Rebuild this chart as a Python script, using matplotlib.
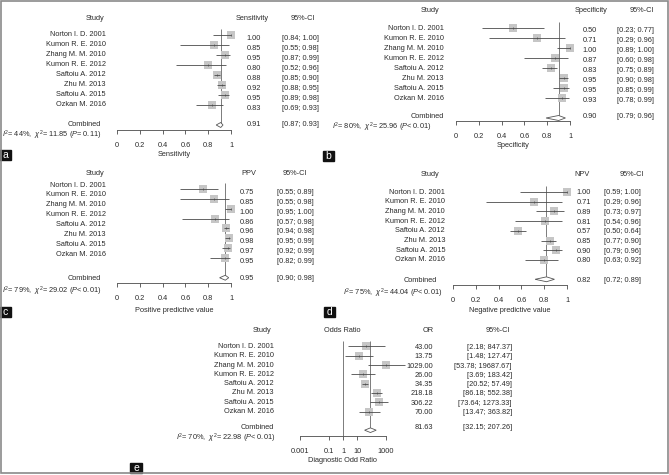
import numpy as np
import matplotlib.pyplot as plt
from matplotlib import transforms
from matplotlib.patches import Polygon, Rectangle

plt.rcParams['font.family'] = ['Liberation Sans', 'DejaVu Sans']
plt.rcParams['mathtext.fontset'] = 'custom'
plt.rcParams['mathtext.rm'] = 'Liberation Sans'
plt.rcParams['mathtext.it'] = 'Liberation Sans:italic'

# data
studies = ["Norton I. D. 2001", "Kumon R. E. 2010", "Zhang M. M. 2010", "Kumon R. E. 2012",
           "Saftoiu A. 2012", "Zhu M. 2013", "Saftoiu A. 2015", "Ozkan M. 2016"]

sens = [1.00, 0.85, 0.95, 0.80, 0.88, 0.92, 0.95, 0.83]
sens_lo = [0.84, 0.55, 0.87, 0.52, 0.85, 0.88, 0.89, 0.69]
sens_hi = [1.00, 0.98, 0.99, 0.96, 0.90, 0.95, 0.98, 0.93]
sens_comb = [0.91, 0.87, 0.93]

spec = [0.50, 0.71, 1.00, 0.87, 0.83, 0.95, 0.95, 0.93]
spec_lo = [0.23, 0.29, 0.89, 0.60, 0.75, 0.90, 0.85, 0.78]
spec_hi = [0.77, 0.96, 1.00, 0.98, 0.89, 0.98, 0.99, 0.99]
spec_comb = [0.90, 0.79, 0.96]

ppv = [0.75, 0.85, 1.00, 0.86, 0.96, 0.98, 0.97, 0.95]
ppv_lo = [0.55, 0.55, 0.95, 0.57, 0.94, 0.95, 0.92, 0.82]
ppv_hi = [0.89, 0.98, 1.00, 0.98, 0.98, 0.99, 0.99, 0.99]
ppv_comb = [0.95, 0.90, 0.98]

npv = [1.00, 0.71, 0.89, 0.81, 0.57, 0.85, 0.90, 0.80]
npv_lo = [0.59, 0.29, 0.73, 0.54, 0.50, 0.77, 0.79, 0.63]
npv_hi = [1.00, 0.96, 0.97, 0.96, 0.64, 0.90, 0.96, 0.92]
npv_comb = [0.82, 0.72, 0.89]

odds = [43.00, 13.75, 1029.00, 26.00, 34.35, 218.18, 306.22, 70.00]
odds_lo = [2.18, 1.48, 53.78, 3.69, 20.52, 86.18, 73.64, 13.47]
odds_hi = [847.37, 127.47, 19687.67, 183.42, 57.49, 552.38, 1273.33, 363.82]
odds_comb = [81.63, 32.15, 207.26]

hetero = {
    "a": ("44%", "11.85", "= 0.11"),
    "b": ("80%", "25.96", "< 0.01"),
    "c": ("79%", "29.02", "< 0.01"),
    "d": ("75%", "44.04", "< 0.01"),
    "e": ("70%", "22.98", "< 0.01"),
}

W, H = 669, 475
FS = 5.3
TXT = '#2b2b2b'
LINE = '#4a4a4a'

fig = plt.figure(figsize=(W / 100, H / 100), dpi=100)


def fx(x):
    return x / W


def fy(y):
    return 1 - y / H


def ftext(x, y, s, **kw):
    kw.setdefault('fontsize', FS)
    kw.setdefault('color', TXT)
    kw.setdefault('va', 'center')
    fig.text(fx(x), fy(y), s, **kw)


def forest(g, est, lo, hi, comb, xlim, ticks, ticklabels, log=False, nullline=None):
    n = len(est)
    rows = np.arange(1, n + 1)
    crow = n + 2
    comb_y = g['row1'] + (crow - 1) * g['dy']
    row_axis = crow + (g['axis_y'] - comb_y) / g['dy']
    top_y = g['row1'] - g['dy']
    ax = fig.add_axes([fx(g['left']), fy(g['axis_y']), (g['right'] - g['left']) / W,
                       (g['axis_y'] - top_y) / H])
    if log:
        ax.set_xscale('log')
    ax.set_xlim(xlim)
    ax.set_ylim(row_axis, 0)
    for s in ['top', 'left', 'right']:
        ax.spines[s].set_visible(False)
    ax.spines['bottom'].set_linewidth(0.6)
    ax.spines['bottom'].set_color(LINE)
    ax.set_yticks([])
    ax.set_xticks(ticks)
    ax.set_xticklabels(ticklabels)
    ax.minorticks_off()
    ax.tick_params(axis='x', length=3, width=0.6, color=LINE, pad=5.5, labelsize=FS, labelcolor=TXT)
    ax.patch.set_visible(False)

    # reference lines
    ax.vlines(comb[0], 0.4, crow, color='#666666', lw=0.6)
    if nullline is not None:
        ax.vlines(nullline, 0.4, row_axis, color='#666666', lw=0.6)

    ax.scatter(est, rows, marker='s', s=30, color='#c6c6c6', lw=0, zorder=3, clip_on=False)
    ax.hlines(rows, lo, hi, color=LINE, lw=0.6, zorder=4, clip_on=False)
    ax.scatter(est, rows, marker='|', s=4, color=LINE, lw=0.5, zorder=5, clip_on=False)

    h = 0.25
    dia = Polygon([[comb[1], crow], [comb[0], crow - h], [comb[2], crow], [comb[0], crow + h]],
                  closed=True, facecolor='white', edgecolor='#555555', lw=0.6, zorder=4)
    ax.add_patch(dia)

    tr = transforms.blended_transform_factory(fig.transFigure, ax.transData)

    def rtext(x, row, s, **kw):
        kw.setdefault('fontsize', FS)
        kw.setdefault('color', TXT)
        kw.setdefault('va', 'center')
        ax.text(fx(x), row, s, transform=tr, **kw)

    fmt = '{:.2f}'
    for i, r in enumerate(rows):
        rtext(g['study_x'], r + g['lab_off'], studies[i], ha='right')
        rtext(g['val_x'], r + g['val_off'], fmt.format(est[i]), ha=g['val_ha'])
        rtext(g['ci_x'], r + g['val_off'], "[" + fmt.format(lo[i]) + "; " + fmt.format(hi[i]) + "]",
              ha=g['ci_ha'])
    rtext(g['study_x'] - g['comb_dx'], crow + g['comb_off'], "Combined", ha='right')
    rtext(g['val_x'], crow + g['comb_off'], fmt.format(comb[0]), ha=g['val_ha'])
    rtext(g['ci_x'], crow + g['comb_off'],
          "[" + fmt.format(comb[1]) + "; " + fmt.format(comb[2]) + "]", ha=g['ci_ha'])
    return ax


def headers(g, title):
    ftext(g['study_hdr'], g['hdr_y'], "Study", ha='center')
    ftext(g['val_hdr'], g['hdr_y'], title, ha='center')
    ftext(g['ci_hdr'], g['hdr_y'], "95%-CI", ha='center')


def het(key, x, y, ha='left'):
    i2, chi, p = hetero[key]
    s = r"$I^2$= " + i2 + r",  $\chi^2$= " + chi + r" ($P$" + p + ")"
    ftext(x, y, s, ha=ha)


def tag(letter, x, y, w=11, h=10):
    fig.patches.append(Rectangle((fx(x), fy(y + h)), w / W, h / H, transform=fig.transFigure,
                                 color='#111111', zorder=10))
    ftext(x + w / 2, y + h / 2, letter, ha='center', color='white', fontsize=7.5, zorder=11)


ticks01 = [0, 0.2, 0.4, 0.6, 0.8, 1]
labels01 = ["0", "0.2", "0.4", "0.6", "0.8", "1"]

# panel a
ga = dict(left=117, right=231, row1=35, dy=10, axis_y=130, study_x=106, lab_off=-0.1,
          val_x=254, val_off=0.3, val_ha='center', ci_x=282, ci_ha='left', comb_dx=5, comb_off=-0.1,
          study_hdr=95, hdr_y=19, val_hdr=252, ci_hdr=303)
forest(ga, sens, sens_lo, sens_hi, sens_comb, (0, 1), ticks01, labels01)
headers(ga, "Sensitivity")
het("a", 2, 135)
ftext(174, 155, "Sensitivity", ha='center')
tag("a", 0, 150)

# panel b
gb = dict(left=456, right=570, row1=28, dy=10, axis_y=121, study_x=444, lab_off=0.0,
          val_x=590, val_off=0.25, val_ha='center', ci_x=617, ci_ha='left', comb_dx=0, comb_off=-0.2,
          study_hdr=430, hdr_y=10, val_hdr=591, ci_hdr=642)
forest(gb, spec, spec_lo, spec_hi, spec_comb, (0, 1), ticks01, labels01)
headers(gb, "Specificity")
het("b", 332, 127)
ftext(513, 146, "Specificity", ha='center')
tag("b", 323, 151)

# panel c
gc = dict(left=117, right=231, row1=189, dy=9.86, axis_y=283, study_x=106, lab_off=-0.4,
          val_x=247, val_off=0.35, val_ha='center', ci_x=277, ci_ha='left', comb_dx=5, comb_off=0.1,
          study_hdr=95, hdr_y=174, val_hdr=249, ci_hdr=295)
forest(gc, ppv, ppv_lo, ppv_hi, ppv_comb, (0, 1), ticks01, labels01)
headers(gc, "PPV")
het("c", 2, 291)
ftext(174, 310, "Positive predictive value", ha='center')
tag("c", 0, 307)

# panel d
gd = dict(left=453, right=567, row1=192, dy=9.7, axis_y=285, study_x=445, lab_off=0.0,
          val_x=584, val_off=0.1, val_ha='center', ci_x=604, ci_ha='left', comb_dx=8, comb_off=0.1,
          study_hdr=430, hdr_y=175, val_hdr=582, ci_hdr=632)
forest(gd, npv, npv_lo, npv_hi, npv_comb, (0, 1), ticks01, labels01)
headers(gd, "NPV")
het("d", 343, 293)
ftext(510, 311, "Negative predictive value", ha='center')
tag("d", 324, 307)

# panel e
ge = dict(left=300, right=386, row1=346.5, dy=9.3, axis_y=436, study_x=274, lab_off=0.0,
          val_x=433, val_off=0.1, val_ha='right', ci_x=512, ci_ha='right', comb_dx=0, comb_off=-0.3,
          study_hdr=262, hdr_y=330, val_hdr=428, ci_hdr=498)
forest(ge, odds, odds_lo, odds_hi, odds_comb, (1e-3, 1e3), [1e-3, 0.1, 1, 10, 1000],
       ["0.001", "0.1", "1", "10", "1000"], log=True, nullline=1)
headers(ge, "OR")
ftext(342, 331, "Odds Ratio", ha='center')
het("e", 275, 438.5, ha='right')
ftext(342, 461, "Diagnostic Odd Ratio", ha='center')
tag("e", 130, 463, w=12, h=10)

# outer frame
fig.patches.append(Rectangle((fx(1), fy(473)), 667 / W, 472 / H, transform=fig.transFigure,
                             fill=False, edgecolor='#8a8a8a', lw=1.2, zorder=12))

fig.savefig("out.png", dpi=100)
